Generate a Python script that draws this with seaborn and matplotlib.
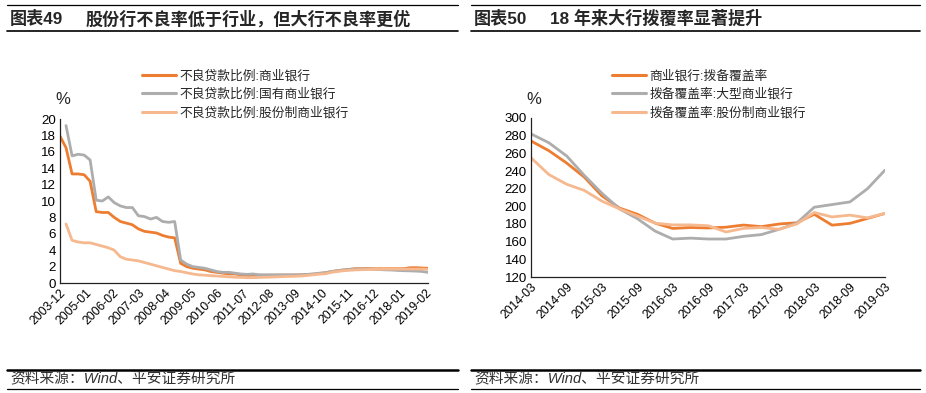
import pandas as pd
import numpy as np
import matplotlib
matplotlib.use("Agg")
import matplotlib.pyplot as plt
import matplotlib.dates as mdates
from matplotlib.lines import Line2D
import seaborn as sns

# -------------------------------
# 1. Data
# -------------------------------
npl_dates = pd.date_range("2003-12-01", "2019-03-01", freq="3MS")
npl_commercial = [17.9,
                  16.5, 13.3, 13.3, 13.2,
                  12.4, 8.7, 8.6, 8.6,
                  8.0, 7.5, 7.3, 7.1,
                  6.6, 6.3, 6.2, 6.1,
                  5.8, 5.6, 5.5, 2.4,
                  2.0, 1.8, 1.7, 1.6,
                  1.4, 1.3, 1.2, 1.1,
                  1.1, 1.0, 0.9, 0.95,
                  0.94, 0.94, 0.95, 0.95,
                  0.96, 0.96, 0.97, 1.0,
                  1.04, 1.08, 1.16, 1.25,
                  1.39, 1.50, 1.59, 1.67,
                  1.75, 1.75, 1.76, 1.74,
                  1.74, 1.74, 1.74, 1.74,
                  1.75, 1.86, 1.87, 1.83,
                  1.80]
npl_state = [np.nan,
             19.2, 15.5, 15.7, 15.6,
             15.0, 10.1, 10.0, 10.5,
             9.8, 9.4, 9.2, 9.2,
             8.2, 8.1, 7.8, 8.0,
             7.5, 7.4, 7.5, 2.8,
             2.3, 2.0, 1.9, 1.8,
             1.6, 1.4, 1.3, 1.3,
             1.2, 1.1, 1.05, 1.1,
             1.0, 1.0, 1.0, 1.0,
             1.0, 1.0, 1.0, 1.0,
             1.05, 1.1, 1.2, 1.25,
             1.4, 1.5, 1.6, 1.66,
             1.7, 1.7, 1.7, 1.68,
             1.64, 1.6, 1.58, 1.53,
             1.5, 1.48, 1.45, 1.41,
             1.30]
npl_joint = [np.nan,
             7.2, 5.2, 5.0, 4.9,
             4.9, 4.7, 4.5, 4.3,
             4.0, 3.2, 2.9, 2.8,
             2.7, 2.5, 2.3, 2.1,
             1.9, 1.7, 1.5, 1.4,
             1.25, 1.1, 1.0, 0.95,
             0.9, 0.85, 0.8, 0.75,
             0.7, 0.68, 0.65, 0.65,
             0.68, 0.7, 0.72, 0.75,
             0.78, 0.8, 0.82, 0.86,
             0.92, 1.0, 1.08, 1.12,
             1.3, 1.4, 1.5, 1.55,
             1.6, 1.62, 1.65, 1.67,
             1.68, 1.69, 1.70, 1.70,
             1.70, 1.70, 1.70, 1.70,
             1.68]
npl_labels = ["不良贷款比例:商业银行", "不良贷款比例:国有商业银行", "不良贷款比例:股份制商业银行"]
npl_ticks = pd.date_range("2003-12-01", "2019-02-01", freq="13MS")

cov_dates = pd.date_range("2014-03-01", "2019-03-01", freq="3MS")
cov_commercial = [274, 263, 249, 233, 212, 198, 191, 181, 175, 176, 175.5,
                  176.4, 178.8, 177, 180, 181.4, 191, 178.7, 180.7, 186.3, 192]
cov_large = [282, 272, 257, 235, 215, 197, 186, 172, 163, 164, 163,
             163, 166, 168, 174, 181, 199, 202, 205, 220, 241]
cov_joint = [255, 236, 225, 218, 206, 197, 189, 181, 179, 179, 178,
             171, 175, 176, 174, 180, 193, 188, 190, 187, 192]
cov_labels = ["商业银行:拨备覆盖率", "拨备覆盖率:大型商业银行", "拨备覆盖率:股份制商业银行"]
cov_ticks = pd.date_range("2014-03-01", "2019-03-01", freq="6MS")

colors = ["#ED7D31", "#ADADAD", "#F6B98F"]

# -------------------------------
# 2. Style
# -------------------------------
sns.set_theme(style="white")
plt.rcParams["font.family"] = ["Liberation Sans", "Noto Sans CJK SC", "DejaVu Sans"]
plt.rcParams["axes.unicode_minus"] = False

W, H = 926, 393
fig = plt.figure(figsize=(W / 100, H / 100), dpi=100)


def fx(px):
    return px / W


def fy(py):
    return 1 - py / H


def draw_panel(ax, dates, series, labels, ticks, ylim, ystep, leg_x):
    df = pd.DataFrame({lab: vals for lab, vals in zip(labels, series)}, index=dates)
    df.index.name = "date"
    long = df.reset_index().melt(id_vars="date", var_name="series", value_name="value")
    sns.lineplot(data=long, x="date", y="value", hue="series", hue_order=labels,
                 palette=colors, linewidth=2.0, ax=ax, legend=False)
    ax.set_xlim(dates[0], dates[-1])
    ax.set_ylim(*ylim)
    ax.set_yticks(np.arange(ylim[0], ylim[1] + 0.1, ystep))
    ax.set_xticks(ticks)
    ax.xaxis.set_major_formatter(mdates.DateFormatter("%Y-%m"))
    ax.set_xlabel("")
    ax.set_ylabel("")
    for s in ["top", "right"]:
        ax.spines[s].set_visible(False)
    for s in ["left", "bottom"]:
        ax.spines[s].set_color("#222222")
        ax.spines[s].set_linewidth(0.9)
    ax.tick_params(axis="both", direction="in", length=4, width=0.8,
                   color="#222222", labelsize=9.6, labelcolor="black", pad=3)
    ax.tick_params(axis="x", labelsize=8.8)
    plt.setp(ax.get_xticklabels(), rotation=45, ha="right", rotation_mode="anchor")
    handles = [Line2D([0], [0], color=c, lw=2.2) for c in colors]
    fig.legend(handles, labels, loc="upper left", bbox_to_anchor=(fx(leg_x), fy(70)),
               frameon=False, fontsize=9.2, handlelength=2.65, handletextpad=0.3,
               labelspacing=0.45, borderpad=0, borderaxespad=0)


# -------------------------------
# 3. Left panel: NPL ratio
# -------------------------------
ax1 = fig.add_axes([fx(60), fy(283), fx(428 - 60), (283 - 119) / H])
draw_panel(ax1, npl_dates, [npl_commercial, npl_state, npl_joint], npl_labels,
           npl_ticks, (0, 20), 2, 142)
ax1.set_xlim(npl_dates[0], npl_ticks[-1] + pd.Timedelta(days=30))
fig.text(fx(55), fy(99), "%", fontsize=12, va="center", ha="left")

# -------------------------------
# 4. Right panel: provision coverage
# -------------------------------
ax2 = fig.add_axes([fx(531), fy(277), fx(885 - 531), (277 - 118) / H])
draw_panel(ax2, cov_dates, [cov_commercial, cov_large, cov_joint], cov_labels,
           cov_ticks, (120, 300), 20, 612)
fig.text(fx(526), fy(99), "%", fontsize=12, va="center", ha="left")

# -------------------------------
# 5. Titles, rules and sources
# -------------------------------
for x0, x1, num, title in [(7, 458, "图表49", "股份行不良率低于行业，但大行不良率更优"),
                           (471, 920, "图表50", "18 年来大行拨覆率显著提升")]:
    fig.add_artist(Line2D([fx(x0), fx(x1)], [fy(5), fy(5)], color="black", lw=0.9))
    fig.add_artist(Line2D([fx(x0), fx(x1)], [fy(31), fy(31)], color="black", lw=1.2))
    fig.text(fx(x0 + 3), fy(18.5), num, fontsize=12.3, fontweight="bold", va="center")
    fig.text(fx(x0 + 79), fy(18.5), title, fontsize=12.3, fontweight="bold", va="center")
    fig.add_artist(Line2D([fx(x0), fx(x1)], [fy(370), fy(370)], color="black", lw=1.8))
    fig.add_artist(Line2D([fx(x0), fx(x1)], [fy(389), fy(389)], color="black", lw=0.9))
    fig.text(fx(x0 + 3), fy(379), "资料来源：Wind、平安证券研究所", fontsize=10.6,
             style="italic", color="#333333", va="center")

plt.savefig("out.png", dpi=100)
